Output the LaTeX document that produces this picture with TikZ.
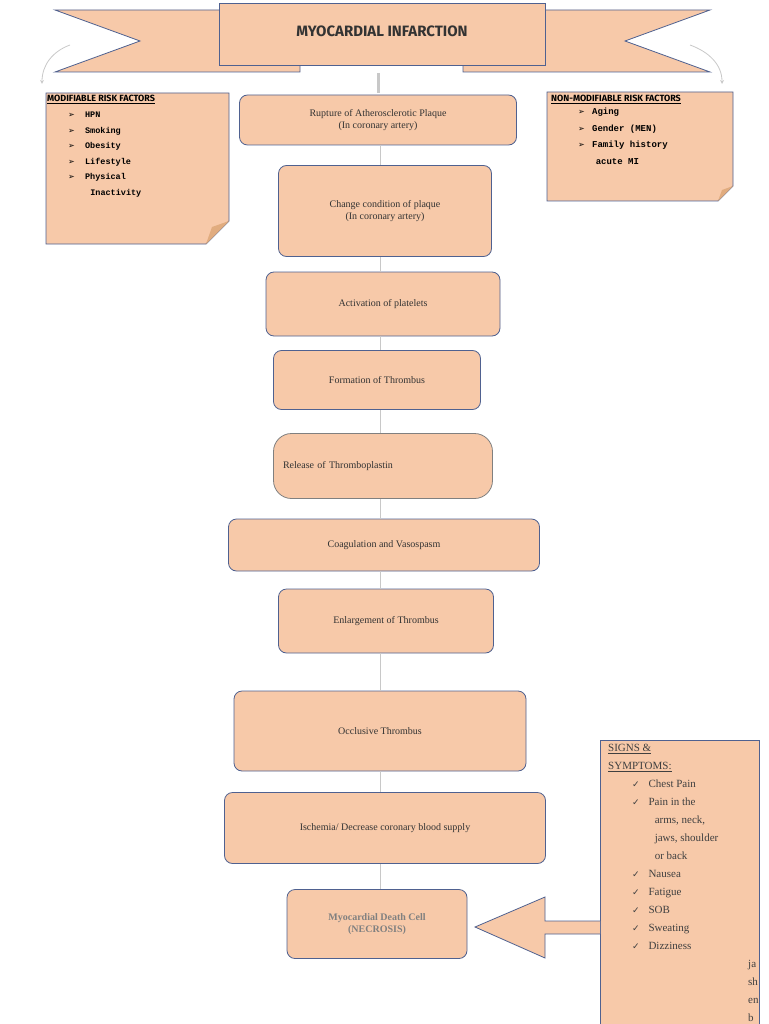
\documentclass[tikz,border=0pt]{standalone}
\usepackage{fontspec}
\setmainfont{Liberation Serif}
\newfontfamily\titlefont{Fira Sans}
\newfontfamily\listfont{Liberation Mono}
\newfontfamily\symfont{DejaVu Sans}
\usetikzlibrary{calc}
\usetikzlibrary{shapes.geometric, arrows, positioning}
\definecolor{peach}{HTML}{F7C9A9}
\definecolor{edge}{HTML}{4F6190}
\definecolor{link}{HTML}{C8C8C8}
\tikzset{
  stepbox/.style={draw=edge, fill=peach, thick, rounded corners=8pt, align=center, font=\fontsize{10}{12}\selectfont, text=black!80},
  factor/.style={draw=edge, fill=peach, thick}
}
\newcommand{\chk}{{\symfont\fontsize{9}{9}\selectfont ✓}}
\newcommand{\pnt}{{\symfont\fontsize{8}{8}\selectfont ➢}}

\begin{document}
\begin{tikzpicture}[x=1pt, y=-1pt]
\useasboundingbox (0,0) rectangle (768,1024);

% --- Banner ---
\draw[factor] (220,10) -- (55,10) -- (140,41) -- (55,72) -- (300,72) -- (300,65) -- (220,65) -- cycle;
\draw[factor] (545,10) -- (710,10) -- (625,41) -- (710,72) -- (463,72) -- (463,65) -- (545,65) -- cycle;
\draw[factor] (219,3) rectangle (545,65);
\node[font=\titlefont\bfseries\fontsize{15}{18}\selectfont, text=black!80] (title) at (382,31) {MYOCARDIAL INFARCTION};

% curved arrows to the risk factors
\coordinate (lend) at (42,84);
\coordinate (rend) at (722,84);
\draw[link, thick, -stealth] (70,45) to[out=200, in=90] (lend);
\draw[link, thick, -stealth] (690,45) to[out=-20, in=90] (rend);

% --- Chain of events ---
\node[stepbox, minimum width=277pt, minimum height=50pt] (rupture) at (378,120) {Rupture of Atherosclerotic Plaque\\(In coronary artery)};
\node[stepbox, minimum width=213pt, minimum height=91pt] (change) at (385,211) {Change condition of plaque\\(In coronary artery)};
\node[stepbox, minimum width=234pt, minimum height=64pt] (platelets) at (383,304) {Activation of platelets};
\node[stepbox, minimum width=207pt, minimum height=59pt] (formation) at (377,380) {Formation of Thrombus};
\node[stepbox, draw=gray, rounded corners=18pt, minimum width=219pt, minimum height=65pt, text width=200pt, align=left] (release) at (383,466) {Release of Thromboplastin};
\node[stepbox, minimum width=311pt, minimum height=52pt] (coag) at (384,545) {Coagulation and Vasospasm};
\node[stepbox, minimum width=215pt, minimum height=64pt] (enlarge) at (386,621) {Enlargement of Thrombus};
\node[stepbox, minimum width=292pt, minimum height=80pt] (occlusive) at (380,731) {Occlusive Thrombus};
\node[stepbox, minimum width=321pt, minimum height=71pt] (ischemia) at (385,828) {Ischemia/ Decrease coronary blood supply};
\node[stepbox, minimum width=180pt, minimum height=69pt, text=gray, font=\bfseries\fontsize{10}{12}\selectfont] (necrosis) at (377,924) {Myocardial Death Cell\\(NECROSIS)};

\draw[link, line width=3pt] (378,73) -- (378,93);
\foreach \a/\b in {rupture/change, change/platelets, platelets/formation, formation/release,
  release/coag, coag/enlarge, enlarge/occlusive, occlusive/ischemia, ischemia/necrosis}
  \draw[link, thick] (\a.south -| 380,0) -- (\b.north -| 380,0);

% --- Risk factors ---
\draw[factor] (46,93) -- (229,93) -- (229,221) -- (206,244) -- (46,244) -- cycle;
\fill[peach!60!brown] (229,221) -- (206,244) -- (212,227) -- cycle;
\node[anchor=north west, font=\titlefont\bfseries\fontsize{9}{10}\selectfont, inner sep=0pt] (modtitle) at (47,95) {\underline{MODIFIABLE RISK FACTORS}};
\node[anchor=north west, align=left, font=\listfont\bfseries\fontsize{8.5}{15.5}\selectfont, inner sep=0pt] (modlist) at (68,112)
  {\pnt\hspace{1.2em}HPN\\\pnt\hspace{1.2em}Smoking\\\pnt\hspace{1.2em}Obesity\\\pnt\hspace{1.2em}Lifestyle\\\pnt\hspace{1.2em}Physical\\\hspace{2.6em}Inactivity};

\draw[factor] (547,92) -- (733,92) -- (733,186) -- (718,201) -- (547,201) -- cycle;
\fill[peach!60!brown] (733,186) -- (718,201) -- (722,190) -- cycle;
\node[anchor=north west, font=\titlefont\bfseries\fontsize{9}{10}\selectfont, inner sep=0pt] (nontitle) at (551,95) {\underline{NON-MODIFIABLE RISK FACTORS}};
\node[anchor=north west, align=left, font=\listfont\bfseries\fontsize{9}{16.5}\selectfont, inner sep=0pt] (nonlist) at (578,108)
  {\pnt\hspace{0.8em}Aging\\\pnt\hspace{0.8em}Gender (MEN)\\\pnt\hspace{0.8em}Family history\\\hspace{1.95em}acute MI};

% --- Signs and symptoms ---
\draw[factor] (600,1030) -- (600,740) -- (759,740) -- (759,1030);
\node[anchor=north west, align=left, inner sep=0pt, font=\fontsize{11}{18}\selectfont, text=black!75] (signtitle) at (608,744) {\underline{SIGNS \&}\\\underline{SYMPTOMS:}};
\node[anchor=north west, align=left, inner sep=0pt, font=\fontsize{11}{18}\selectfont, text=black!75] (signlist) at (632,780)
  {\chk\hspace{0.8em}Chest Pain\\\chk\hspace{0.8em}Pain in the\\\hspace{2.05em}arms, neck,\\\hspace{2.05em}jaws, shoulder\\\hspace{2.05em}or back\\
   \chk\hspace{0.8em}Nausea\\\chk\hspace{0.8em}Fatigue\\\chk\hspace{0.8em}SOB\\\chk\hspace{0.8em}Sweating\\\chk\hspace{0.8em}Dizziness};
\begin{scope}
\clip (740,955) rectangle (758,1024);
\node[anchor=north west, align=left, inner sep=0pt, font=\fontsize{11}{18}\selectfont, text=black!75] (cutoff) at (748,960) {ja\\sh\\en\\b};
\end{scope}

% arrow from symptoms to necrosis
\draw[factor] (600,921) -- (545,921) -- (545,897) -- (475,927) -- (545,958) -- (545,934) -- (600,934);
\end{tikzpicture}
\end{document}
